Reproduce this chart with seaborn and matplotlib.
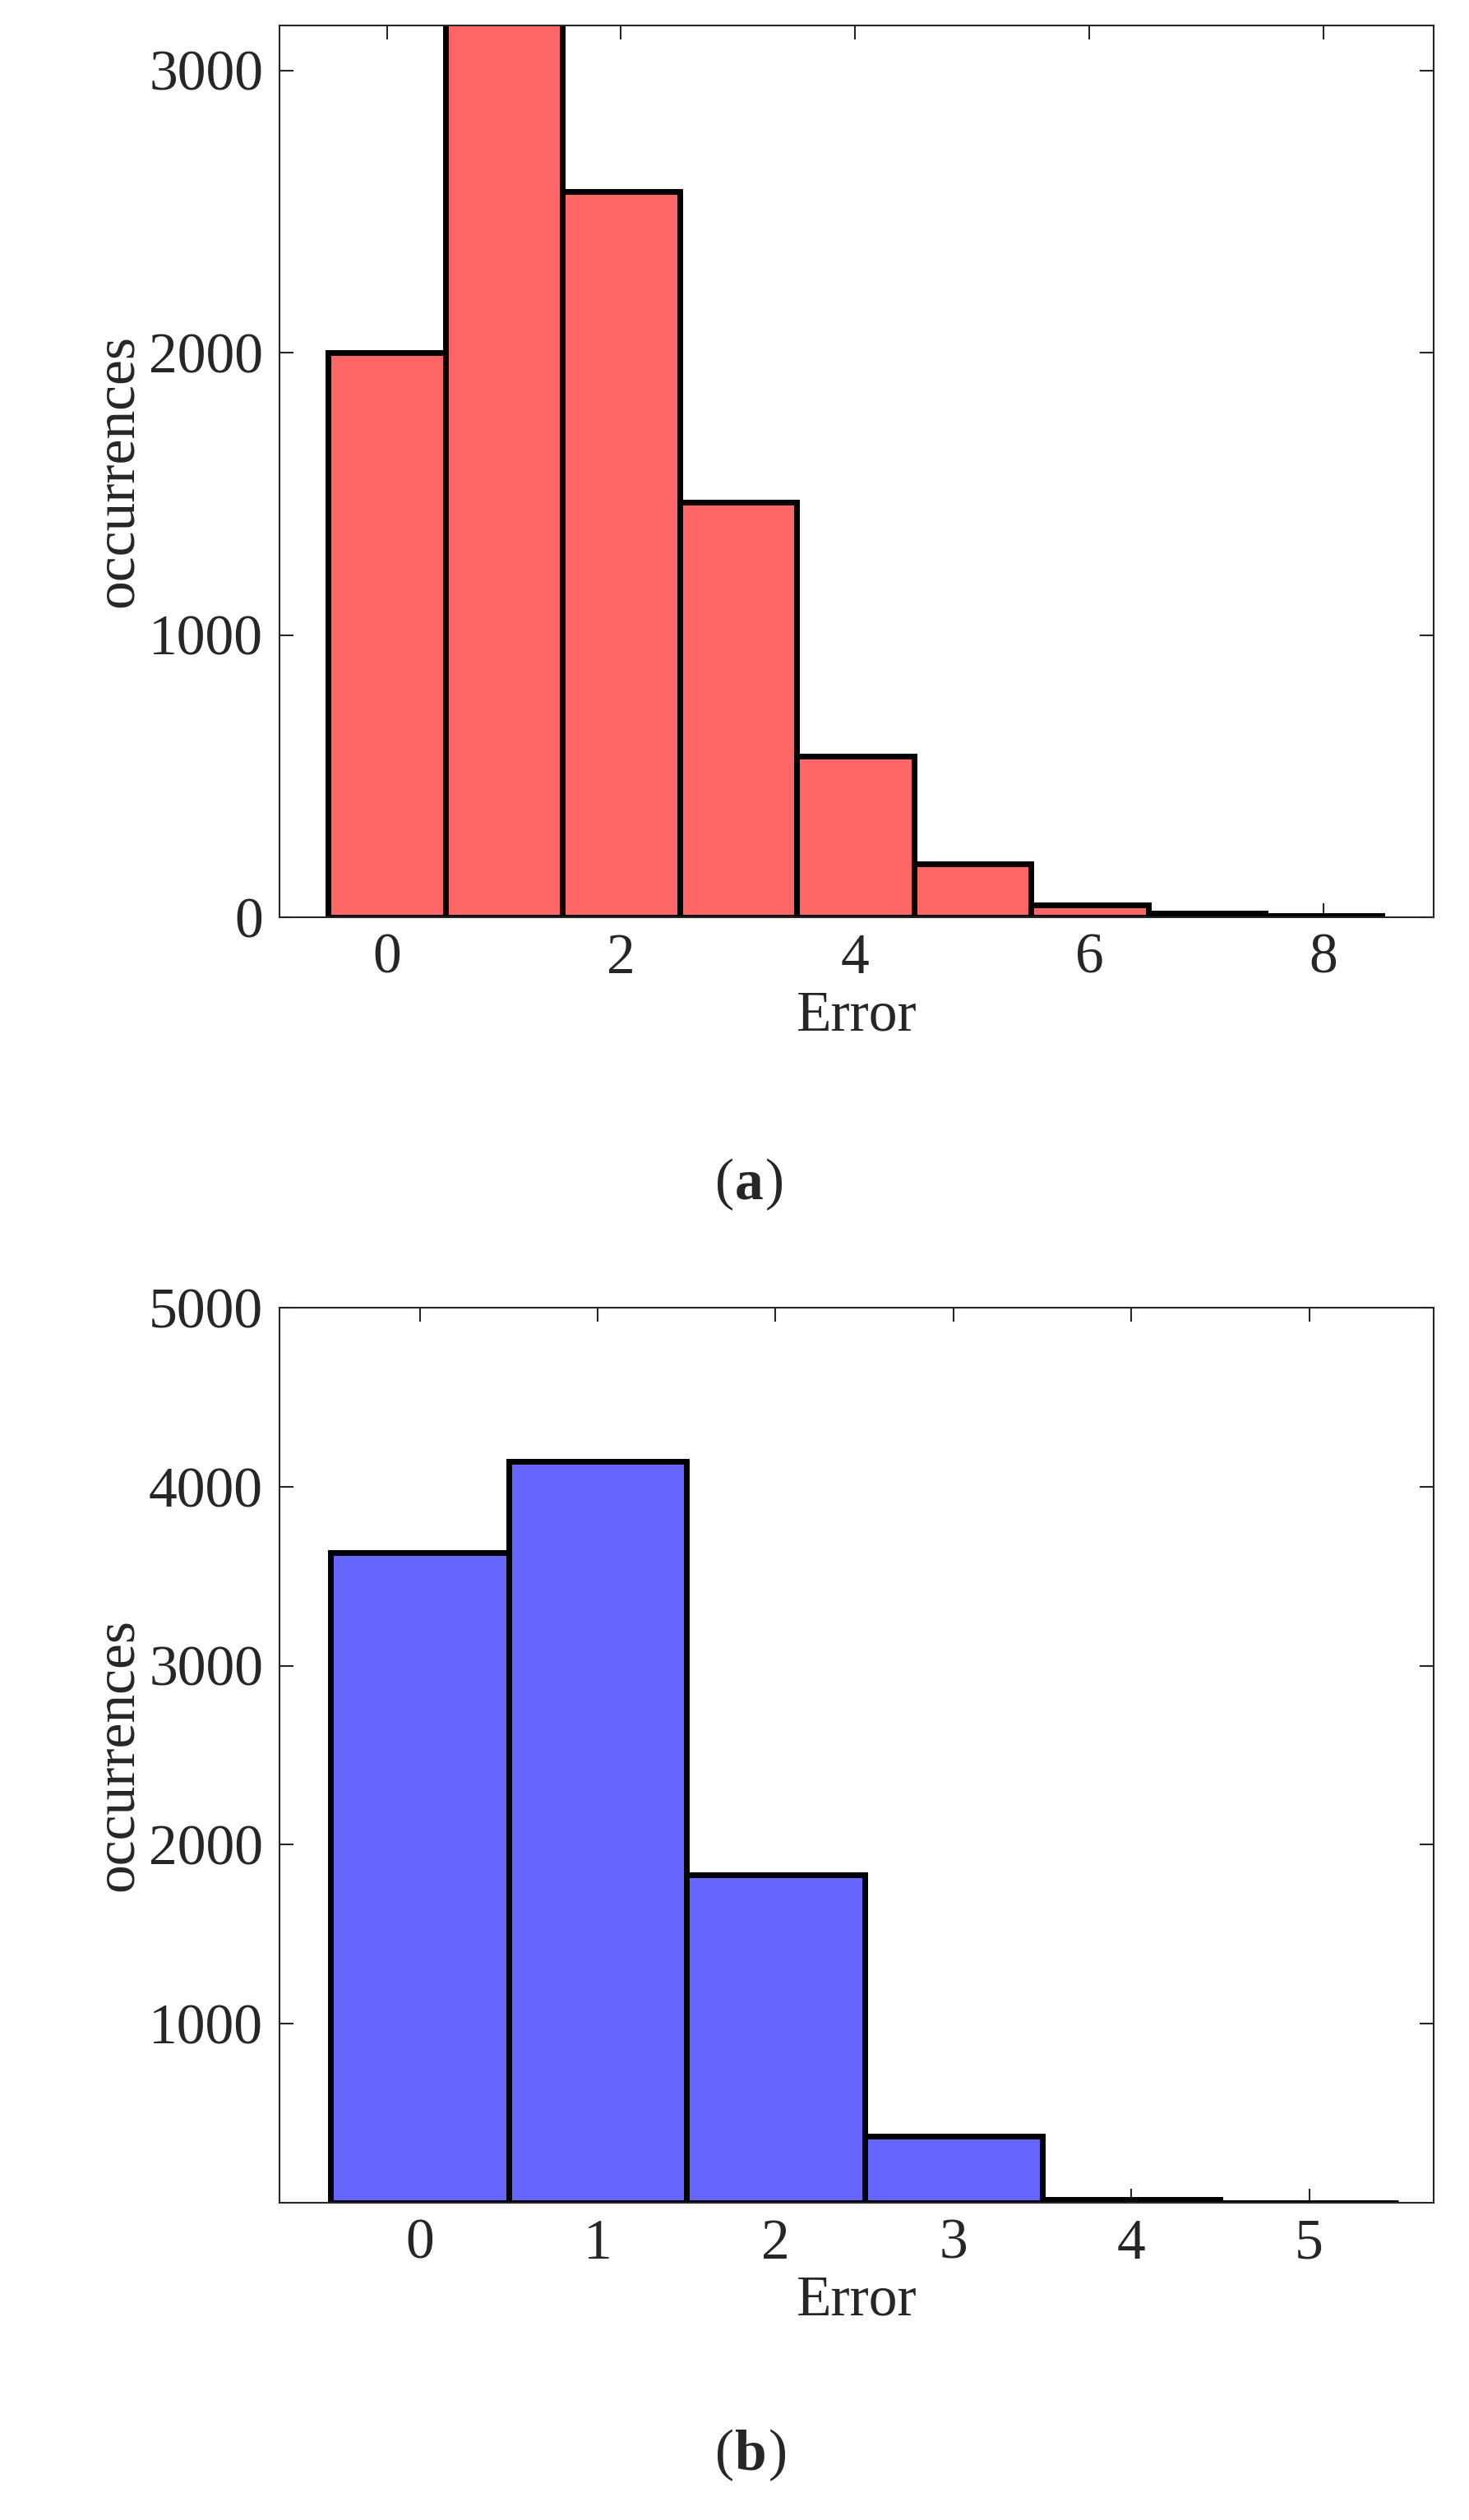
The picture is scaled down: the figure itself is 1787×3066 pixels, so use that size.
import matplotlib
matplotlib.use("Agg")
import matplotlib.pyplot as plt
import seaborn as sns
import numpy as np

err_a = [0, 1, 2, 3, 4, 5, 6, 7, 8]
cnt_a = [2000, 3170, 2570, 1470, 570, 190, 45, 15, 5]
err_b = [0, 1, 2, 3, 4, 5]
cnt_b = [3630, 4140, 1830, 370, 15, 0]

sns.set_style("ticks")
plt.rcParams['font.family'] = ['Liberation Serif', 'DejaVu Serif']
plt.rcParams['mathtext.fontset'] = 'stix'
fs = 50

fig = plt.figure(figsize=(17.87, 30.66), dpi=100)
axa = fig.add_axes([0.19, 0.636, 0.786, 0.354])
axb = fig.add_axes([0.19, 0.126, 0.786, 0.355])

sns.histplot(x=err_a, weights=cnt_a, discrete=True, ax=axa, color="#FF6666",
             alpha=1, edgecolor="black", linewidth=5)
sns.histplot(x=err_b, weights=cnt_b, discrete=True, ax=axb, color="#6666FF",
             alpha=1, edgecolor="black", linewidth=5)

axa.set_xlim(-0.92, 8.94)
axa.set_ylim(0, 3160)
axa.set_xticks([0, 2, 4, 6, 8])
axa.set_yticks([0, 1000, 2000, 3000])
axb.set_xlim(-0.79, 5.7)
axb.set_ylim(0, 5000)
axb.set_xticks([0, 1, 2, 3, 4, 5])
axb.set_yticks([1000, 2000, 3000, 4000, 5000])

for ax in (axa, axb):
    ax.set_xlabel("Error", fontsize=fs)
    ax.set_ylabel("occurrences", fontsize=fs)
    ax.tick_params(labelsize=fs, direction="in", length=12, width=1.5,
                   top=True, right=True, pad=14)
    for s in ax.spines.values():
        s.set_linewidth(1.5)
        s.set_visible(True)

fig.text(0.5, 0.53, "(", fontsize=fs, ha="right", va="center")
fig.text(0.5, 0.53, "a", fontsize=fs, ha="left", va="center", fontweight="bold")
fig.text(0.521, 0.53, ")", fontsize=fs, ha="left", va="center")
fig.text(0.5, 0.0255, "(", fontsize=fs, ha="right", va="center")
fig.text(0.5, 0.0255, "b", fontsize=fs, ha="left", va="center", fontweight="bold")
fig.text(0.523, 0.0255, ")", fontsize=fs, ha="left", va="center")

fig.savefig("out.png", dpi=100)
